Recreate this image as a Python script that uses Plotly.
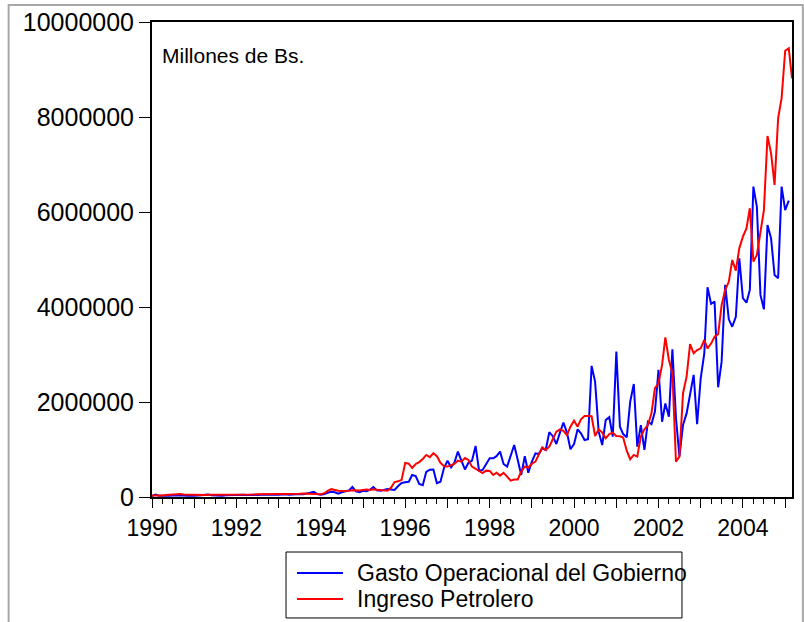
import pandas as pd
import plotly.graph_objects as go

# monthly series, 1990M01 onwards (millones de Bs.)
gasto = [
    20000, 50000, 25000, 20000, 20000, 25000, 30000, 35000, 40000, 30000, 25000, 20000,
    25000, 30000, 35000, 40000, 50000, 35000, 30000, 30000, 25000, 35000, 40000, 30000,
    35000, 40000, 45000, 40000, 50000, 45000, 40000, 50000, 55000, 45000, 40000, 45000,
    50000, 55000, 60000, 45000, 55000, 60000, 65000, 60000, 70000, 90000, 110000, 60000,
    50000, 60000, 90000, 110000, 100000, 70000, 100000, 120000, 140000, 210000, 120000, 100000,
    130000, 120000, 150000, 210000, 140000, 130000, 150000, 170000, 160000, 150000, 230000, 295000,
    310000, 320000, 463000, 440000, 275000, 250000, 530000, 575000, 580000, 290000, 320000, 605000,
    765000, 625000, 720000, 955000, 765000, 580000, 720000, 765000, 1075000, 555000, 570000, 690000,
    815000, 815000, 860000, 955000, 695000, 640000, 870000, 1095000, 780000, 465000, 860000, 510000,
    745000, 920000, 905000, 1025000, 990000, 1365000, 1280000, 1115000, 1355000, 1565000, 1355000, 1005000,
    1115000, 1425000, 1340000, 1200000, 1215000, 2760000, 2430000, 1375000, 1095000, 1620000, 1680000, 1270000,
    3060000, 1480000, 1325000, 1255000, 2005000, 2380000, 1060000, 1515000, 990000, 1585000, 1535000, 1800000,
    2675000, 1585000, 1970000, 1690000, 3110000, 1655000, 860000, 1515000, 1760000, 2145000, 2570000, 1535000,
    2500000, 3025000, 4415000, 4065000, 4115000, 2310000, 2850000, 4465000, 3740000, 3585000, 3795000, 5025000,
    4185000, 4090000, 4360000, 6535000, 6110000, 4255000, 3950000, 5725000, 5445000, 4675000, 4605000, 6535000,
    6040000, 6240000,
]

ingreso = [
    30000, 25000, 25000, 30000, 40000, 50000, 60000, 70000, 65000, 55000, 50000, 45000,
    40000, 40000, 45000, 40000, 45000, 45000, 50000, 45000, 40000, 45000, 50000, 45000,
    40000, 45000, 50000, 50000, 55000, 55000, 60000, 60000, 55000, 60000, 60000, 60000,
    60000, 65000, 65000, 65000, 70000, 70000, 70000, 75000, 70000, 65000, 60000, 60000,
    60000, 80000, 130000, 165000, 140000, 130000, 125000, 120000, 130000, 140000, 130000, 135000,
    150000, 160000, 150000, 165000, 155000, 150000, 145000, 130000, 200000, 315000, 330000, 360000,
    715000, 700000, 610000, 695000, 735000, 800000, 885000, 840000, 925000, 860000, 720000, 650000,
    640000, 675000, 695000, 765000, 745000, 820000, 780000, 640000, 590000, 545000, 505000, 555000,
    550000, 463000, 510000, 450000, 510000, 430000, 345000, 370000, 370000, 535000, 640000, 620000,
    700000, 745000, 885000, 1045000, 990000, 1060000, 1215000, 1375000, 1425000, 1395000, 1305000, 1480000,
    1605000, 1480000, 1635000, 1705000, 1705000, 1700000, 1285000, 1425000, 1355000, 1235000, 1325000, 1355000,
    1285000, 1280000, 1255000, 975000, 795000, 885000, 850000, 1270000, 1425000, 1515000, 1760000, 2290000,
    2395000, 2780000, 3360000, 2885000, 2605000, 745000, 850000, 2185000, 2535000, 3220000, 3025000, 3095000,
    3130000, 3305000, 3130000, 3230000, 3375000, 3430000, 4040000, 4360000, 4530000, 4990000, 4765000, 5235000,
    5480000, 5655000, 6080000, 4955000, 5095000, 5550000, 6040000, 7600000, 7235000, 6570000, 7975000, 8395000,
    9395000, 9445000, 8815000,
]

series_names = ["Gasto Operacional del Gobierno", "Ingreso Petrolero"]
series_colors = ["#0000ff", "#ff0000"]
years = list(range(1990, 2006))
year_labels = [str(y) if y % 2 == 0 and y < 2005 else "" for y in years]
y_ticks = [0, 2000000, 4000000, 6000000, 8000000, 10000000]

fechas_g = pd.date_range("1990-01-01", periods=len(gasto), freq="MS")
fechas_i = pd.date_range("1990-01-01", periods=len(ingreso), freq="MS")

FONT = "Liberation Sans, Arial, sans-serif"

fig = go.Figure()
fig.add_trace(go.Scatter(x=fechas_g, y=gasto, mode="lines", name=series_names[0],
                         line=dict(color=series_colors[0], width=2)))
fig.add_trace(go.Scatter(x=fechas_i, y=ingreso, mode="lines", name=series_names[1],
                         line=dict(color=series_colors[1], width=2)))

fig.update_xaxes(
    type="date",
    range=[fechas_i[0], fechas_i[-1]],
    tickmode="array",
    tickvals=[f"{y}-01-01" for y in years],
    ticktext=year_labels,
    ticks="outside", ticklen=9, tickwidth=1, tickcolor="black",
    minor=dict(ticks="outside", ticklen=5, tickwidth=1, tickcolor="black",
               dtick="M3", tick0="1990-01-01", showgrid=False),
    showline=True, linecolor="black", linewidth=2, mirror=True,
    showgrid=False, zeroline=False, automargin=False,
    tickfont=dict(family=FONT, size=23, color="black"),
)
fig.update_yaxes(
    range=[0, 10000000],
    tickmode="array", tickvals=y_ticks, ticktext=[str(v) for v in y_ticks],
    ticks="outside", ticklen=11, tickwidth=1, tickcolor="black",
    showline=True, linecolor="black", linewidth=2, mirror=True,
    showgrid=False, zeroline=False, automargin=False,
    tickfont=dict(family=FONT, size=25, color="black"),
)

fig.add_annotation(text="Millones de Bs.", xref="paper", yref="paper",
                   x=0.012, y=0.93, xanchor="left", yanchor="middle", showarrow=False,
                   font=dict(family=FONT, size=21, color="black"))

# grey outer frame of the EViews graph window
fig.add_shape(type="rect", xref="paper", yref="paper",
              x0=-0.224, x1=1.017, y0=-0.27, y1=1.036,
              line=dict(color="#a8a8a8", width=2), layer="below")

# legend box drawn below the plot, EViews style
fig.add_shape(type="rect", xref="paper", yref="paper",
              x0=0.2094, x1=0.8281, y0=-0.2547, y1=-0.1158,
              line=dict(color="black", width=1), fillcolor="white")
for k, ly in enumerate([-0.16, -0.2147]):
    fig.add_shape(type="line", xref="paper", yref="paper",
                  x0=0.2266, x1=0.2984, y0=ly, y1=ly,
                  line=dict(color=series_colors[k], width=2))
    fig.add_annotation(text=series_names[k], xref="paper", yref="paper",
                       x=0.3172, y=ly, xanchor="left", yanchor="middle", showarrow=False,
                       font=dict(family=FONT, size=23, color="black"))

fig.update_layout(
    width=804, height=622,
    margin=dict(l=152, r=12, t=22, b=125, autoexpand=False),
    paper_bgcolor="white", plot_bgcolor="white",
    showlegend=False,
)

fig.write_html("out.html", config={"displayModeBar": False},
               post_script="document.body.style.margin='0';")
